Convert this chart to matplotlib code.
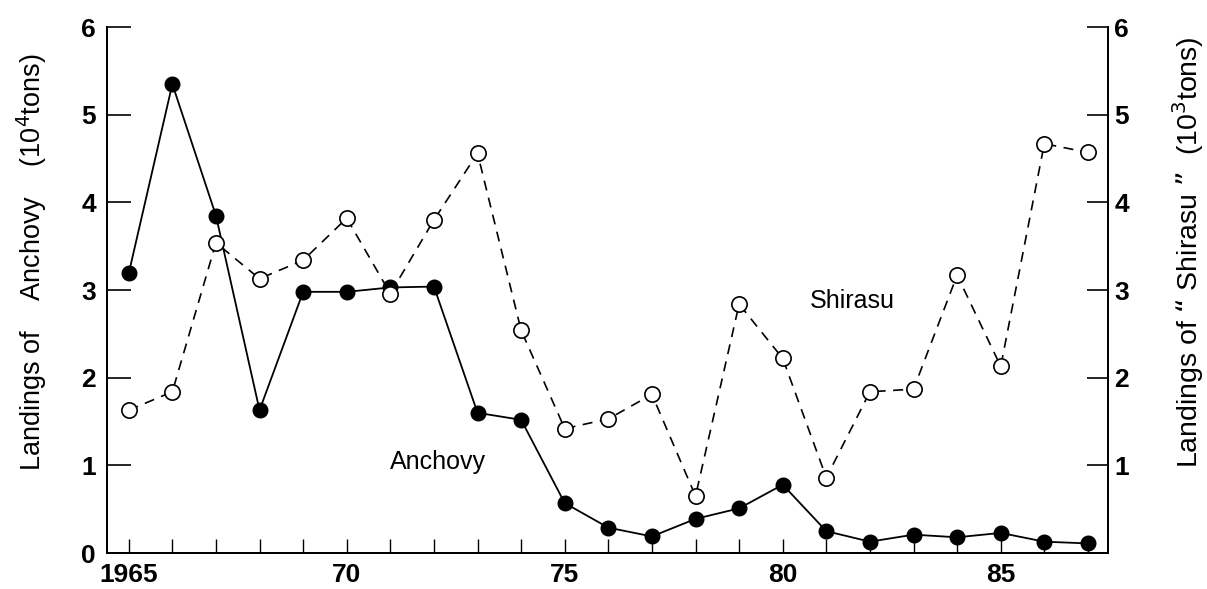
import matplotlib
matplotlib.use("Agg")
import matplotlib.pyplot as plt
from matplotlib.ticker import MultipleLocator, FixedLocator

years = list(range(1965, 1988))

# Anchovy landings (10^4 tons), left axis
anchovy = [3.19, 5.35, 3.85, 1.63, 2.98, 2.98, 3.03, 3.04, 1.60, 1.52, 0.57,
           0.29, 0.19, 0.39, 0.51, 0.78, 0.25, 0.13, 0.21, 0.18, 0.23, 0.13, 0.11]

# Shirasu landings (10^3 tons), right axis
shirasu = [1.63, 1.84, 3.54, 3.13, 3.34, 3.82, 2.96, 3.80, 4.56, 2.54, 1.42,
           1.53, 1.81, 0.65, 2.84, 2.22, 0.86, 1.84, 1.87, 3.17, 2.13, 4.67, 4.57]

major_years = [1965, 1970, 1975, 1980, 1985]
major_labels = ["1965", "70", "75", "80", "85"]

plt.rcParams["font.family"] = ["Liberation Sans", "DejaVu Sans"]

fig = plt.figure(figsize=(12.07, 5.89), dpi=100)
ax = fig.add_axes([0.0886, 0.061, 0.829, 0.893])
ax2 = ax.twinx()

ax.plot(years, anchovy, color="black", lw=1.3, marker="o", ms=10.5,
        mfc="black", mec="black", zorder=3)
ax2.plot(years, shirasu, color="black", lw=1.2, ls=(0, (6, 4.5)), marker="o",
         ms=11, mfc="white", mec="black", mew=1.2, zorder=3)

ax.set_xlim(1964.5, 1987.45)
ax.set_ylim(0, 6)
ax2.set_ylim(0, 6)

ax.xaxis.set_major_locator(FixedLocator(major_years))
ax.set_xticklabels(major_labels)
ax.xaxis.set_minor_locator(MultipleLocator(1))
ax.tick_params(axis="x", which="both", direction="in", length=10, width=1.0,
               pad=7, labelsize=19)
ax.tick_params(axis="y", direction="in", length=17, width=1.2, pad=8,
               labelsize=19)
ax.set_yticks([0, 1, 2, 3, 4, 5, 6])

ax2.set_yticks([1, 2, 3, 4, 5, 6])
ax2.tick_params(axis="y", direction="in", length=15, width=1.2, pad=5,
                labelsize=19)

for a in (ax, ax2):
    a.spines["top"].set_visible(False)
    for s in ("left", "right", "bottom"):
        a.spines[s].set_linewidth(1.3)
    for lab in a.get_xticklabels() + a.get_yticklabels():
        lab.set_fontweight("bold")

ax.set_ylabel("Landings of    Anchovy    (10$^4$tons)", fontsize=19.5)
ax.yaxis.set_label_coords(-0.058, 0.553)
ax2.set_ylabel("Landings of \u201c Shirasu \u201d  (10$^3$tons)", fontsize=20.5)
ax2.yaxis.set_label_coords(1.063, 0.572)

ax.text(1972.1, 1.04, "Anchovy", fontsize=18, ha="center", va="center")
ax2.text(1981.6, 2.88, "Shirasu", fontsize=18, ha="center", va="center")

fig.savefig("out.png", dpi=100)
